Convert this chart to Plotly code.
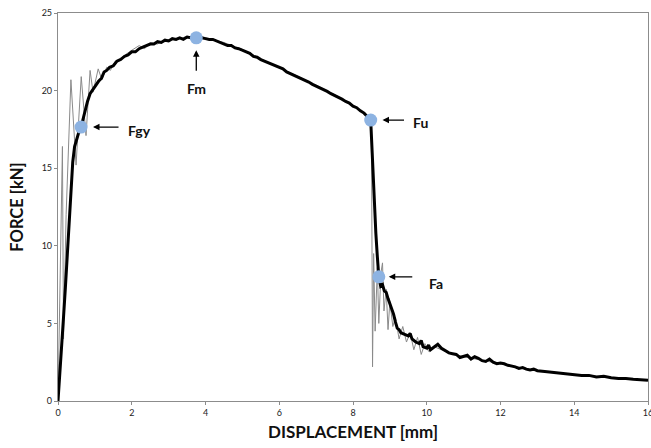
import plotly.graph_objects as go

# Smoothed force-displacement response (thick black)
disp_smooth = [0, 0.05, 0.10, 0.15, 0.20, 0.25, 0.30, 0.35, 0.40, 0.45, 0.50, 0.55, 0.625,
               0.70, 0.75, 0.80, 0.87, 0.95, 1.02, 1.10, 1.18, 1.25, 1.32, 1.40, 1.50, 1.60,
               1.70, 1.80, 1.90, 2.00, 2.10, 2.20, 2.30, 2.40, 2.50, 2.60, 2.70, 2.80, 2.90,
               3.00, 3.10, 3.20, 3.30, 3.40, 3.50, 3.60, 3.75, 3.90, 4.00, 4.10, 4.20, 4.30,
               4.40, 4.50, 4.60, 4.70, 4.80, 4.90, 5.00, 5.10, 5.20, 5.30, 5.40, 5.50, 5.60,
               5.70, 5.80, 5.90, 6.00, 6.10, 6.20, 6.30, 6.40, 6.50, 6.60, 6.70, 6.80, 6.90,
               7.00, 7.10, 7.20, 7.30, 7.40, 7.50, 7.60, 7.70, 7.80, 7.90, 8.00, 8.10, 8.20,
               8.30, 8.40, 8.48, 8.52, 8.57, 8.62, 8.66, 8.70, 8.75, 8.80, 8.85, 8.90, 8.95,
               9.00, 9.05, 9.10, 9.15, 9.20, 9.25, 9.30, 9.40, 9.50, 9.55, 9.60, 9.70, 9.80,
               9.85, 9.90, 10.00, 10.05, 10.10, 10.20, 10.30, 10.40, 10.50, 10.60, 10.70,
               10.80, 10.90, 11.00, 11.10, 11.20, 11.30, 11.40, 11.50, 11.60, 11.70, 11.80,
               11.90, 12.00, 12.10, 12.20, 12.30, 12.40, 12.50, 12.60, 12.70, 12.80, 12.90,
               13.00, 13.20, 13.40, 13.60, 13.80, 14.00, 14.20, 14.40, 14.60, 14.80, 15.00,
               15.20, 15.40, 15.60, 15.80, 16.00]
force_smooth = [0, 1.6, 3.5, 5.4, 7.3, 9.4, 11.6, 13.9, 15.4, 16.4, 16.9, 17.2, 17.65,
                18.4, 19.0, 19.3, 19.8, 20.1, 20.3, 20.6, 20.8, 21.2, 21.3, 21.5, 21.6, 21.9,
                22.0, 22.2, 22.3, 22.5, 22.5, 22.7, 22.8, 22.9, 23.0, 23.0, 23.15, 23.1, 23.25,
                23.2, 23.35, 23.3, 23.4, 23.3, 23.45, 23.4, 23.4, 23.4, 23.35, 23.3, 23.3, 23.2,
                23.1, 23.05, 22.9, 22.9, 22.75, 22.7, 22.6, 22.45, 22.4, 22.2, 22.15, 22.0, 21.9,
                21.8, 21.65, 21.6, 21.45, 21.4, 21.2, 21.1, 21.0, 20.9, 20.8, 20.65, 20.55, 20.4,
                20.3, 20.2, 20.05, 19.95, 19.8, 19.7, 19.55, 19.45, 19.3, 19.2, 19.0, 18.9, 18.7,
                18.55, 18.3, 18.1, 16.0, 13.0, 10.8, 9.3, 8.0, 7.4, 7.5, 7.1, 7.0, 6.6,
                6.3, 5.9, 5.6, 5.1, 4.7, 4.6, 4.4, 4.3, 4.2, 4.35, 4.0, 3.8, 3.7,
                3.9, 3.5, 3.4, 3.6, 3.3, 3.5, 3.65, 3.4, 3.25, 3.1, 3.05,
                3.0, 2.8, 2.9, 2.95, 2.7, 2.85, 2.75, 2.6, 2.55, 2.7, 2.5,
                2.4, 2.45, 2.4, 2.3, 2.25, 2.2, 2.1, 2.15, 2.05, 2.0, 2.05,
                1.95, 1.9, 1.85, 1.8, 1.75, 1.7, 1.65, 1.65, 1.55, 1.6, 1.5,
                1.45, 1.45, 1.4, 1.35, 1.33]

# Raw measured signal (thin grey)
disp_raw = [0, 0.06, 0.12, 0.15, 0.22, 0.35, 0.49, 0.63, 0.76, 0.87, 0.95, 1.09, 1.19,
            1.32, 1.42, 1.55, 1.70, 2.00, 2.20, 2.35, 2.50, 2.70, 2.90, 3.20, 3.50, 3.75,
            4.00, 4.50, 5.00, 5.50, 6.00, 6.50, 7.00, 7.50, 8.00, 8.40, 8.50, 8.53, 8.56,
            8.60, 8.66, 8.70, 8.76, 8.80, 8.84, 8.90, 8.95, 9.00, 9.08, 9.15, 9.25, 9.35,
            9.45, 9.55, 9.65, 9.75, 9.85, 9.95, 10.05, 10.20, 10.50, 11.00, 12.00, 13.00,
            14.00, 15.00, 16.00]
force_raw = [0, 8.0, 16.4, 4.0, 12.0, 20.7, 15.2, 20.9, 17.1, 21.3, 19.9, 21.4, 20.7,
             21.5, 21.3, 21.9, 22.1, 22.6, 22.9, 22.7, 23.1, 23.0, 23.3, 23.25, 23.5, 23.4,
             23.4, 23.1, 22.65, 22.05, 21.5, 20.95, 20.35, 19.75, 19.05, 18.35, 17.6, 2.2, 9.5,
             4.5, 8.6, 5.0, 8.3, 8.9, 5.8, 7.2, 4.6, 6.4, 4.8, 5.4, 4.0, 4.8,
             3.8, 4.4, 3.3, 4.1, 3.0, 3.7, 3.2, 3.5, 3.2, 2.85, 2.4, 1.95,
             1.7, 1.5, 1.33]

# Characteristic points
point_names = ["Fgy", "Fm", "Fu", "Fa"]
point_disp = [0.625, 3.75, 8.48, 8.70]
point_force = [17.65, 23.4, 18.1, 8.0]

x_ticks = [0, 2, 4, 6, 8, 10, 12, 14, 16]
y_ticks = [0, 5, 10, 15, 20, 25]

fig = go.Figure()
fig.add_trace(go.Scatter(x=disp_raw, y=force_raw, mode="lines",
                         line=dict(color="#8a8a8a", width=1), showlegend=False))
fig.add_trace(go.Scatter(x=disp_smooth, y=force_smooth, mode="lines",
                         line=dict(color="#000000", width=3), showlegend=False))
fig.add_trace(go.Scatter(x=point_disp, y=point_force, mode="markers",
                         marker=dict(color="#8db3e2", size=13), showlegend=False))

label_font = dict(family="Lato", size=14, color="#111111")
# (tip x, tip y, tail dx px, tail dy px, text x, text y)
arrows = {
    "Fgy": (0.95, 17.65, 27, 0, 2.22, 17.45),
    "Fm": (3.75, 22.6, 0, 22, 3.75, 20.15),
    "Fu": (8.80, 18.1, 23, 0, 9.84, 17.95),
    "Fa": (8.97, 8.0, 25, 0, 10.24, 7.6),
}
for name in point_names:
    tx, ty, dx, dy, lx, ly = arrows[name]
    fig.add_annotation(x=tx, y=ty, ax=dx, ay=dy, text="", showarrow=True,
                       arrowhead=2, arrowsize=1, arrowwidth=1.3, arrowcolor="#000000")
    fig.add_annotation(x=lx, y=ly, text="<b>%s</b>" % name, showarrow=False,
                       font=label_font)

axis_common = dict(showgrid=False, zeroline=False, showline=True, linecolor="#8c8c8c",
                   linewidth=1.2, mirror=True, ticks="outside", ticklen=3,
                   tickcolor="#8c8c8c", ticklabeloverflow="allow", automargin=False,
                   tickfont=dict(family="Lato", size=9, color="#222222"))

fig.update_xaxes(range=[0, 16], tickvals=x_ticks, ticktext=[str(v) for v in x_ticks],
                 title=dict(text="<b>DISPLACEMENT [mm]</b>", standoff=9,
                            font=dict(family="Lato", size=17, color="#111111")),
                 **axis_common)
fig.update_yaxes(range=[0, 25], tickvals=y_ticks, ticktext=[str(v) for v in y_ticks],
                 title=dict(text="<b>FORCE [kN]</b>", standoff=13,
                            font=dict(family="Lato", size=16.5, color="#111111")),
                 **axis_common)

fig.update_layout(width=651, height=448, margin=dict(l=58, r=3, t=13, b=47),
                  paper_bgcolor="white", plot_bgcolor="white")

fig.write_html("out.html")
